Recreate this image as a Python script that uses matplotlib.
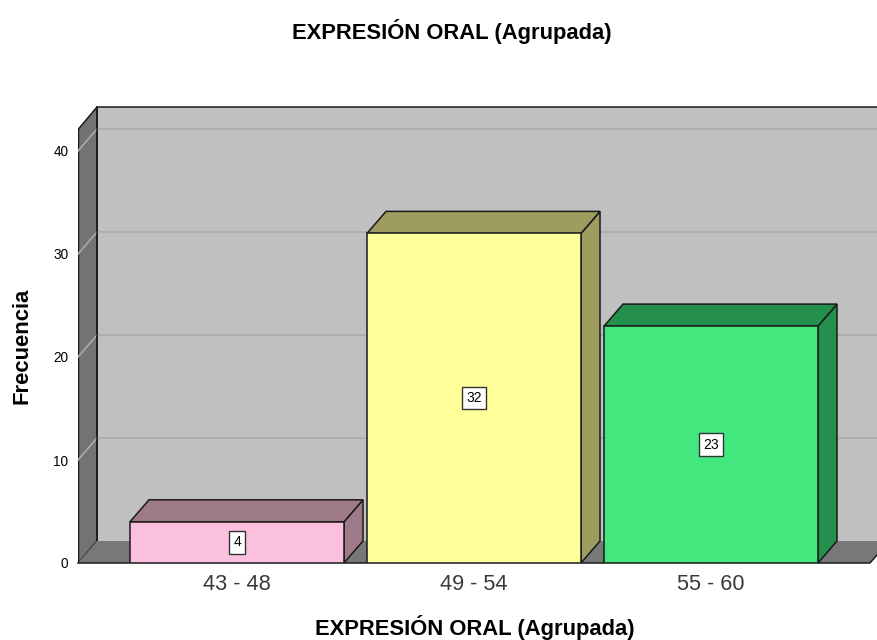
import matplotlib
matplotlib.use("Agg")
import matplotlib.pyplot as plt
from matplotlib.patches import Polygon

categories = ["43 - 48", "49 - 54", "55 - 60"]
values = [4, 32, 23]
front_colors = ["#FCC0DF", "#FFFF9A", "#42E87E"]
shade_colors = ["#9F7A88", "#9E9C5E", "#258F4E"]
yticks = [0, 10, 20, 30, 40]

plt.rcParams['font.family'] = ['Liberation Sans', 'DejaVu Sans']

fig = plt.figure(figsize=(8.77, 6.4), dpi=100)
W, H = 877, 640
# pixel geometry
px_left, px_right = 78, 877
px_zero, px_per_cat, px_per_unit = 563, 237, 10.3
cat0_px = 237
xmin = (px_left - cat0_px) / px_per_cat
xmax = (px_right - cat0_px) / px_per_cat
ymax = 45
ax = fig.add_axes([px_left / W, (H - px_zero) / H, (px_right - px_left) / W,
                   ymax * px_per_unit / H])
ax.set_xlim(xmin, xmax)
ax.set_ylim(0, ymax)

dx = 19 / px_per_cat
dy = 22 / px_per_unit
wall_top = (px_zero - 107) / px_per_unit
edge = "#1a1a1a"
lw = 1.1

# back wall
ax.add_patch(Polygon([(xmin + dx, dy), (xmax + 1, dy), (xmax + 1, wall_top),
                      (xmin + dx, wall_top)], closed=True, fc="#C0C0C0",
                     ec="none", zorder=1))
ax.plot([xmin + dx, xmax + 1], [wall_top, wall_top], color=edge, lw=lw, zorder=3)
ax.plot([xmin + dx, xmin + dx], [dy, wall_top], color=edge, lw=lw, zorder=3)
# side wall
ax.add_patch(Polygon([(xmin + 0.002, 0), (xmin + dx, dy), (xmin + dx, wall_top),
                      (xmin + 0.002, wall_top - dy)], closed=True, fc="#737373",
                     ec=edge, lw=lw, zorder=2))
# gridlines
for v in yticks[1:]:
    ax.plot([xmin + dx, xmax + 1], [v + dy, v + dy], color="#ABABAB", lw=1.2, zorder=2)
    ax.plot([xmin, xmin + dx], [v, v + dy], color="#ABABAB", lw=1.2, zorder=2.5)
# floor
floor_right = (870 - cat0_px) / px_per_cat
ax.add_patch(Polygon([(xmin, 0), (floor_right, 0), (floor_right + dx, dy),
                      (xmin + dx, dy)], closed=True, fc="#787878", ec="none",
                     zorder=3))
ax.plot([xmin, floor_right, floor_right + dx], [0, 0, dy], color=edge, lw=lw,
        zorder=3.5, clip_on=False)

# bars
half = 107 / px_per_cat
for i, (v, fc, sc) in enumerate(zip(values, front_colors, shade_colors)):
    x0, x1 = i - half, i + half
    ax.add_patch(Polygon([(x1, 0), (x1 + dx, dy), (x1 + dx, v + dy), (x1, v)],
                         closed=True, fc=sc, ec=edge, lw=lw, zorder=4))
    ax.add_patch(Polygon([(x0, v), (x1, v), (x1 + dx, v + dy), (x0 + dx, v + dy)],
                         closed=True, fc=sc, ec=edge, lw=lw, zorder=4))
    ax.add_patch(Polygon([(x0, 0), (x1, 0), (x1, v), (x0, v)], closed=True,
                         fc=fc, ec=edge, lw=lw, zorder=5))
    ax.text(i, v / 2, str(v), ha="center", va="center", fontsize=10, zorder=6,
            bbox=dict(boxstyle="square,pad=0.3", fc="white", ec="#333333", lw=1.0))

for s in ax.spines.values():
    s.set_visible(False)
ax.set_yticks(yticks)
ax.set_yticklabels([str(t) for t in yticks], fontsize=9.8)
ax.set_xticks(range(len(categories)))
ax.set_xticklabels(categories, fontsize=15.7, color="#3a3a3a")
ax.tick_params(axis="y", length=0, pad=7)
ax.tick_params(axis="x", length=0, pad=8)
ax.patch.set_visible(False)

fig.text(452 / W, 1 - 32 / H, "EXPRESIÓN ORAL (Agrupada)", ha="center",
         va="center", fontsize=15.8, fontweight="bold")
fig.text(475 / W, 1 - 628 / H, "EXPRESIÓN ORAL (Agrupada)", ha="center",
         va="center", fontsize=15.8, fontweight="bold")
fig.text(22 / W, 1 - 346 / H, "Frecuencia", ha="center", va="center",
         fontsize=15.8, fontweight="bold", rotation=90)

fig.savefig("out.png", dpi=100)
